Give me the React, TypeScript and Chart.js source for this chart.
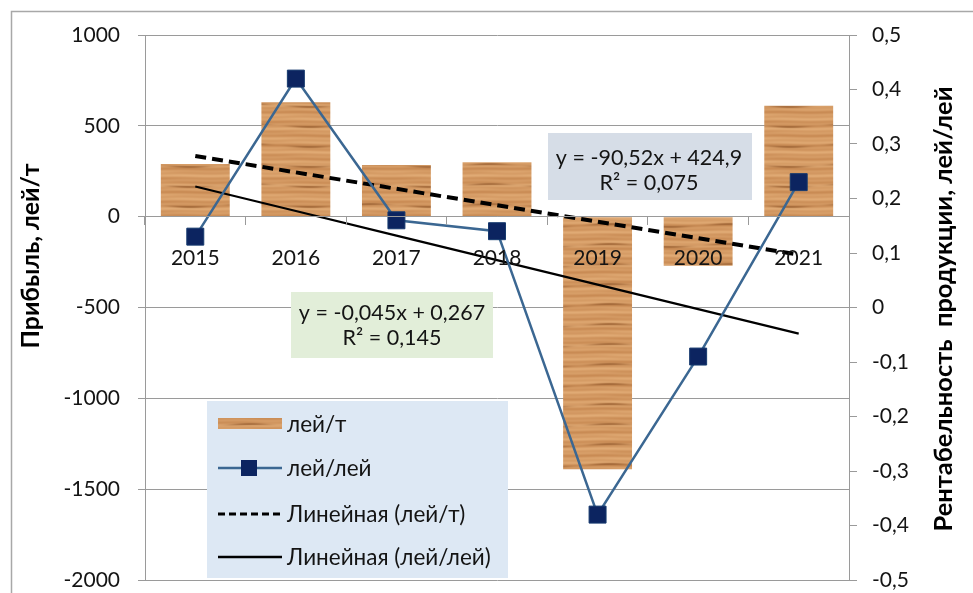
import { useEffect, useRef } from 'react';
import { Chart, registerables } from 'chart.js';

Chart.register(...registerables);

const categories = ['2015', '2016', '2017', '2018', '2019', '2020', '2021'];
const profitValues = [290, 630, 285, 300, -1390, -270, 610];
const profitabilityValues = [0.13, 0.42, 0.16, 0.14, -0.38, -0.09, 0.23];

const profitTrendSlope = -90.52;
const profitTrendIntercept = 424.9;
const profitabilityTrendSlope = -0.045;
const profitabilityTrendIntercept = 0.267;

const seriesLabels = ['лей/т', 'лей/лей', 'Линейная (лей/т)', 'Линейная (лей/лей)'];
const profitEquation = ['y = -90,52x + 424,9', 'R² = 0,075'];
const profitabilityEquation = ['y = -0,045x + 0,267', 'R² = 0,145'];
const leftTitle = 'Прибыль, лей/т';
const rightTitle = 'Рентабельность  продукции, лей/лей';

const FONT = 'Lato, "Open Sans", sans-serif';
const LINE_COLOR = '#3b6792';
const MARKER_COLOR = '#0c2460';
const TEXT_COLOR = '#141414';
const GRID_COLOR = '#9a9a9a';

function makeWood(): CanvasPattern | string {
  const w = 120;
  const h = 80;
  const c = document.createElement('canvas');
  c.width = w;
  c.height = h;
  const g = c.getContext('2d');
  if (!g) return '#d09258';
  const img = g.createImageData(w, h);
  const light = [224, 170, 116];
  const mid = [201, 139, 84];
  const dark = [150, 92, 46];
  const T = 2 * Math.PI;
  for (let y = 0; y < h; y++) {
    for (let x = 0; x < w; x++) {
      const v =
        0.5 +
        0.28 * Math.sin((T * 7 * y) / h + 0.5 * Math.sin((T * x) / w)) +
        0.22 * Math.sin((T * 17 * y) / h + 0.4 * Math.cos((2 * T * x) / w));
      const s = Math.max(0, Math.sin((T * 4 * y) / h + 0.45 * Math.sin((T * x) / w + 1)));
      const d = Math.pow(s, 16) * (0.55 + 0.45 * Math.sin((T * 2 * x) / w + 0.7)) * 0.8;
      const i = (y * w + x) * 4;
      for (let k = 0; k < 3; k++) {
        const base = mid[k] + (light[k] - mid[k]) * v;
        img.data[i + k] = Math.round(base * (1 - d) + dark[k] * d);
      }
      img.data[i + 3] = 255;
    }
  }
  g.putImageData(img, 0, 0);
  return g.createPattern(c, 'repeat') || '#d09258';
}

function fitFont(ctx: CanvasRenderingContext2D, text: string, target: number, weight: string) {
  ctx.font = `${weight} 20px ${FONT}`;
  const w = ctx.measureText(text).width || 1;
  const size = (20 * target) / w;
  ctx.font = `${weight} ${size.toFixed(2)}px ${FONT}`;
}

export default function App() {
  const ref = useRef<HTMLCanvasElement | null>(null);

  useEffect(() => {
    document.body.style.margin = '0';
    const canvas = ref.current;
    if (!canvas) return;
    const wood = makeWood();

    const profitTrend = categories.map((_, i) => profitTrendSlope * (i + 1) + profitTrendIntercept);
    const profitabilityTrend = categories.map(
      (_, i) => profitabilityTrendSlope * (i + 1) + profitabilityTrendIntercept
    );

    const overlay = {
      id: 'overlay',
      beforeDraw(chart: any) {
        const ctx = chart.ctx as CanvasRenderingContext2D;
        ctx.save();
        ctx.fillStyle = '#ffffff';
        ctx.fillRect(0, 0, chart.width, chart.height);
        ctx.strokeStyle = '#a8a8a8';
        ctx.lineWidth = 1.5;
        ctx.strokeRect(11.5, 11.5, chart.width + 40, chart.height + 40);
        ctx.restore();
      },
      afterDraw(chart: any) {
        const ctx = chart.ctx as CanvasRenderingContext2D;
        ctx.save();
        // axis titles
        ctx.fillStyle = '#000';
        ctx.textAlign = 'center';
        ctx.textBaseline = 'middle';
        ctx.save();
        ctx.translate(31, 256);
        ctx.rotate(-Math.PI / 2);
        fitFont(ctx, leftTitle, 185, 'bold');
        ctx.fillText(leftTitle, 0, 0);
        ctx.restore();
        ctx.save();
        ctx.translate(944, 309);
        ctx.rotate(-Math.PI / 2);
        fitFont(ctx, rightTitle, 445, 'bold');
        ctx.fillText(rightTitle, 0, 0);
        ctx.restore();

        // equation boxes
        ctx.font = `21.5px ${FONT}`;
        ctx.fillStyle = '#d6dde7';
        ctx.fillRect(548, 133, 204, 67);
        ctx.fillStyle = TEXT_COLOR;
        ctx.fillText(profitEquation[0], 649, 158);
        ctx.fillText(profitEquation[1], 649, 183);

        ctx.fillStyle = '#e2eed9';
        ctx.fillRect(291, 292, 202, 66);
        ctx.fillStyle = TEXT_COLOR;
        ctx.fillText(profitabilityEquation[0], 392, 313);
        ctx.fillText(profitabilityEquation[1], 392, 338);

        // legend
        ctx.fillStyle = '#dde8f4';
        ctx.fillRect(207, 401, 301, 177);
        const ys = [424, 468, 514, 557];
        ctx.fillStyle = wood as any;
        ctx.fillRect(218, 418, 64, 11);
        ctx.lineCap = 'butt';
        ctx.strokeStyle = LINE_COLOR;
        ctx.lineWidth = 2.5;
        ctx.beginPath();
        ctx.moveTo(218, ys[1]);
        ctx.lineTo(282, ys[1]);
        ctx.stroke();
        ctx.fillStyle = MARKER_COLOR;
        ctx.fillRect(241, ys[1] - 8, 16, 16);
        ctx.strokeStyle = '#000';
        ctx.lineWidth = 3;
        ctx.setLineDash([7, 4]);
        ctx.beginPath();
        ctx.moveTo(218, ys[2]);
        ctx.lineTo(282, ys[2]);
        ctx.stroke();
        ctx.setLineDash([]);
        ctx.lineWidth = 2.5;
        ctx.beginPath();
        ctx.moveTo(218, ys[3]);
        ctx.lineTo(282, ys[3]);
        ctx.stroke();
        ctx.fillStyle = TEXT_COLOR;
        ctx.textAlign = 'left';
        ctx.font = `22.5px ${FONT}`;
        seriesLabels.forEach((t, i) => ctx.fillText(t, 287, ys[i] + 1));
        ctx.restore();
      },
    };

    const chart = new Chart(canvas, {
      type: 'bar',
      data: {
        labels: categories,
        datasets: [
          {
            type: 'line',
            label: seriesLabels[1],
            data: profitabilityValues,
            yAxisID: 'y1',
            borderColor: LINE_COLOR,
            borderWidth: 2.5,
            pointStyle: 'rect',
            pointRadius: 12,
            pointBackgroundColor: MARKER_COLOR,
            pointBorderColor: '#163a6e',
            pointBorderWidth: 1,
            tension: 0,
            order: 1,
          } as any,
          {
            type: 'line',
            label: seriesLabels[2],
            data: profitTrend,
            yAxisID: 'y',
            borderColor: '#000',
            borderWidth: 4,
            borderDash: [11, 6],
            pointRadius: 0,
            order: 2,
          } as any,
          {
            type: 'line',
            label: seriesLabels[3],
            data: profitabilityTrend,
            yAxisID: 'y1',
            borderColor: '#000',
            borderWidth: 2.2,
            pointRadius: 0,
            order: 2,
          } as any,
          {
            type: 'bar',
            label: seriesLabels[0],
            data: profitValues,
            yAxisID: 'y',
            backgroundColor: wood as any,
            barPercentage: 0.685,
            categoryPercentage: 1,
            order: 3,
          } as any,
        ],
      },
      options: {
        responsive: false,
        animation: false,
        devicePixelRatio: 1,
        layout: { padding: { top: 35, bottom: 0, left: 0, right: 0 } },
        plugins: {
          legend: { display: false },
          tooltip: { enabled: false },
        },
        scales: {
          x: {
            position: { y: 0 } as any,
            offset: true,
            grid: {
              display: true,
              drawOnChartArea: false,
              drawTicks: true,
              tickLength: 8,
              color: GRID_COLOR,
              offset: true,
              z: 1,
            },
            border: { display: true, color: GRID_COLOR, z: 1 },
            ticks: {
              color: TEXT_COLOR,
              font: { family: FONT, size: 21 },
              padding: 21,
              maxRotation: 0,
              autoSkip: false,
              z: 1,
            },
          } as any,
          y: {
            position: 'left',
            min: -2000,
            max: 1000,
            afterFit: (s: any) => {
              s.width = 145;
              s.paddingTop = 0;
              s.paddingBottom = 0;
            },
            ticks: {
              stepSize: 500,
              color: TEXT_COLOR,
              font: { family: FONT, size: 21 },
              padding: 18,
              callback: (v: any) => String(v),
            },
            grid: { color: GRID_COLOR, tickLength: 7 },
            border: { color: GRID_COLOR },
          },
          y1: {
            position: 'right',
            min: -0.5,
            max: 0.5,
            afterFit: (s: any) => {
              s.width = 124;
              s.paddingTop = 0;
              s.paddingBottom = 0;
            },
            ticks: {
              stepSize: 0.1,
              color: TEXT_COLOR,
              font: { family: FONT, size: 21 },
              padding: 15,
              callback: (v: any) => {
                const n = Number(v);
                if (Math.abs(n) < 1e-9) return '0';
                return n.toFixed(1).replace('.', ',');
              },
            },
            grid: { drawOnChartArea: false, color: GRID_COLOR, tickLength: 8 },
            border: { color: GRID_COLOR },
          },
        },
      },
      plugins: [overlay],
    });

    return () => chart.destroy();
  }, []);

  return (
    <div style={{ position: 'absolute', left: 0, top: 0, width: 973, height: 593 }}>
      <canvas ref={ref} width={973} height={593} style={{ display: 'block', width: 973, height: 593 }} />
    </div>
  );
}
